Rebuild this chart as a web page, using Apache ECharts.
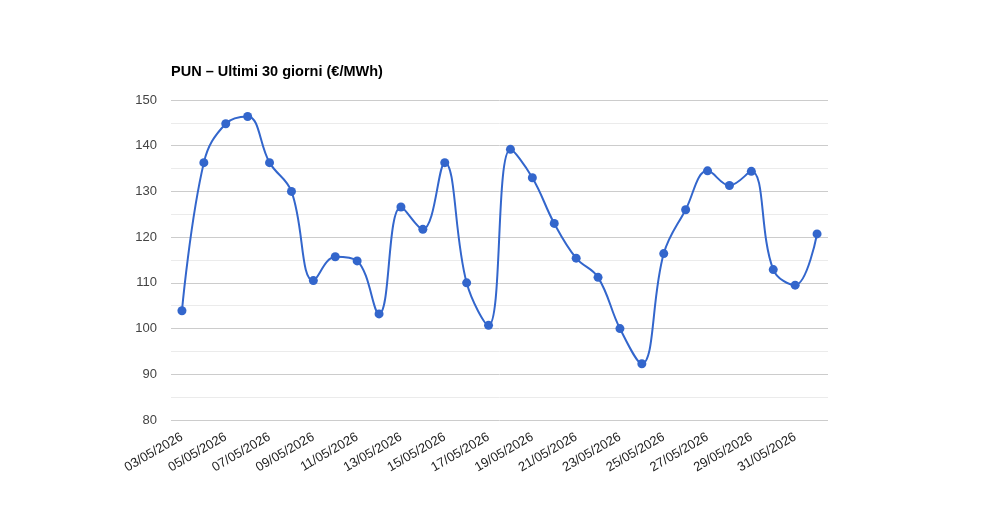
<!DOCTYPE html>
<html><head><meta charset="utf-8">
<script src="https://cdn.jsdelivr.net/npm/echarts@6/dist/echarts.min.js"></script>
<style>html,body{margin:0;padding:0;background:#fff}#c{width:1000px;height:520px}</style>
</head><body><div id="c"></div>
<script>
const categories = ["03/05/2026","04/05/2026","05/05/2026","06/05/2026","07/05/2026","08/05/2026","09/05/2026","10/05/2026","11/05/2026","12/05/2026","13/05/2026","14/05/2026","15/05/2026","16/05/2026","17/05/2026","18/05/2026","19/05/2026","20/05/2026","21/05/2026","22/05/2026","23/05/2026","24/05/2026","25/05/2026","26/05/2026","27/05/2026","28/05/2026","29/05/2026","30/05/2026","31/05/2026","01/06/2026"];
const pun = [103.9,136.3,144.8,146.4,136.3,130.0,110.5,115.7,114.8,103.2,126.6,121.7,136.3,110.0,100.7,139.2,133.0,123.0,115.4,111.2,100.0,92.3,116.4,126.0,134.5,131.3,134.4,112.9,109.5,120.7];
const titleText = "PUN – Ultimi 30 giorni (€/MWh)";
const chart = echarts.init(document.getElementById('c'));
chart.setOption({
  animation:false,
  title:{text:titleText,left:171,top:64,padding:0,textStyle:{fontFamily:'Liberation Sans, Arial',fontSize:14.5,fontWeight:'bold',color:'#000',lineHeight:15}},
  grid:{left:171,right:172,top:100,bottom:100},
  xAxis:{type:'category',data:categories,boundaryGap:true,
    axisLine:{show:false},axisTick:{show:false},
    axisLabel:{interval:1,rotate:30,margin:16,fontFamily:'Liberation Sans, Arial',fontSize:13,color:'#222'}},
  yAxis:{type:'value',min:80,max:150,interval:10,
    axisLine:{show:false},axisTick:{show:false},
    axisLabel:{margin:14,fontFamily:'Liberation Sans, Arial',fontSize:13,color:'#444'},
    splitLine:{lineStyle:{color:'#cccccc',width:1}},
    minorTick:{show:false,splitNumber:2},
    minorSplitLine:{show:true,lineStyle:{color:'#ebebeb',width:1}}},
  series:[{type:'line',data:pun,smooth:0.4,symbol:'circle',symbolSize:9,
    itemStyle:{color:'#3366cc'},lineStyle:{color:'#3366cc',width:2}}]
});
</script></body></html>
